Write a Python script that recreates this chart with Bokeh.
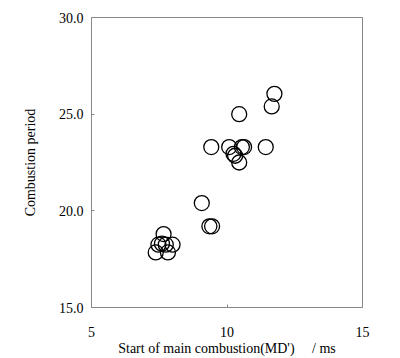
from bokeh.plotting import figure
from bokeh.models import FixedTicker, NumeralTickFormatter, Range1d
from bokeh.embed import file_html
from bokeh.resources import INLINE

md_start = [11.75, 11.65, 10.45, 9.42, 10.08, 10.55, 10.63, 11.43, 10.24, 10.30, 10.45,
            9.07, 9.35, 9.45, 7.66, 7.47, 7.74, 7.99, 7.37, 7.82, 7.60]
comb_period = [26.05, 25.4, 25.0, 23.3, 23.3, 23.3, 23.3, 23.3, 22.95, 22.85, 22.5,
               20.4, 19.2, 19.2, 18.8, 18.25, 18.25, 18.25, 17.85, 17.85, 18.3]
x_ticks = [5, 10, 15]
y_ticks = [15, 20, 25, 30]

FONT = "Liberation Serif"

p = figure(frame_width=271, frame_height=290, output_backend="svg", toolbar_location=None,
           x_range=Range1d(5, 15), y_range=Range1d(15, 30),
           min_border_left=91, min_border_right=22, min_border_top=17, min_border_bottom=40)
p.scatter(md_start, comb_period, size=15, fill_color=None, line_color="black", line_width=1.3)

p.xgrid.visible = False
p.ygrid.visible = False
p.outline_line_color = "#888888"
p.background_fill_color = "white"
p.border_fill_color = "white"

for ax in (p.xaxis[0], p.yaxis[0]):
    ax.axis_line_color = "#888888"
    ax.major_tick_line_color = "#888888"
    ax.major_tick_in = 3
    ax.major_tick_out = 0
    ax.minor_tick_line_color = None
    ax.major_label_text_font = FONT
    ax.major_label_text_font_size = "14px"
    ax.major_label_text_color = "black"
    ax.axis_label_text_font = FONT
    ax.axis_label_text_font_size = "14px"
    ax.axis_label_text_font_style = "normal"
    ax.axis_label_text_color = "black"

p.xaxis.ticker = FixedTicker(ticks=x_ticks)
p.yaxis.ticker = FixedTicker(ticks=y_ticks)
p.yaxis.formatter = NumeralTickFormatter(format="0.0")
p.xaxis.axis_label = "Start of main combustion(MD')\u00a0\u00a0\u00a0\u00a0\u00a0/ ms"
p.yaxis.axis_label = "Combustion period"
p.xaxis.major_label_standoff = 19
p.yaxis.major_label_standoff = 8
p.xaxis.axis_label_standoff = 1
p.yaxis.axis_label_standoff = 18

open("out.html", "w").write(file_html(p, INLINE))
